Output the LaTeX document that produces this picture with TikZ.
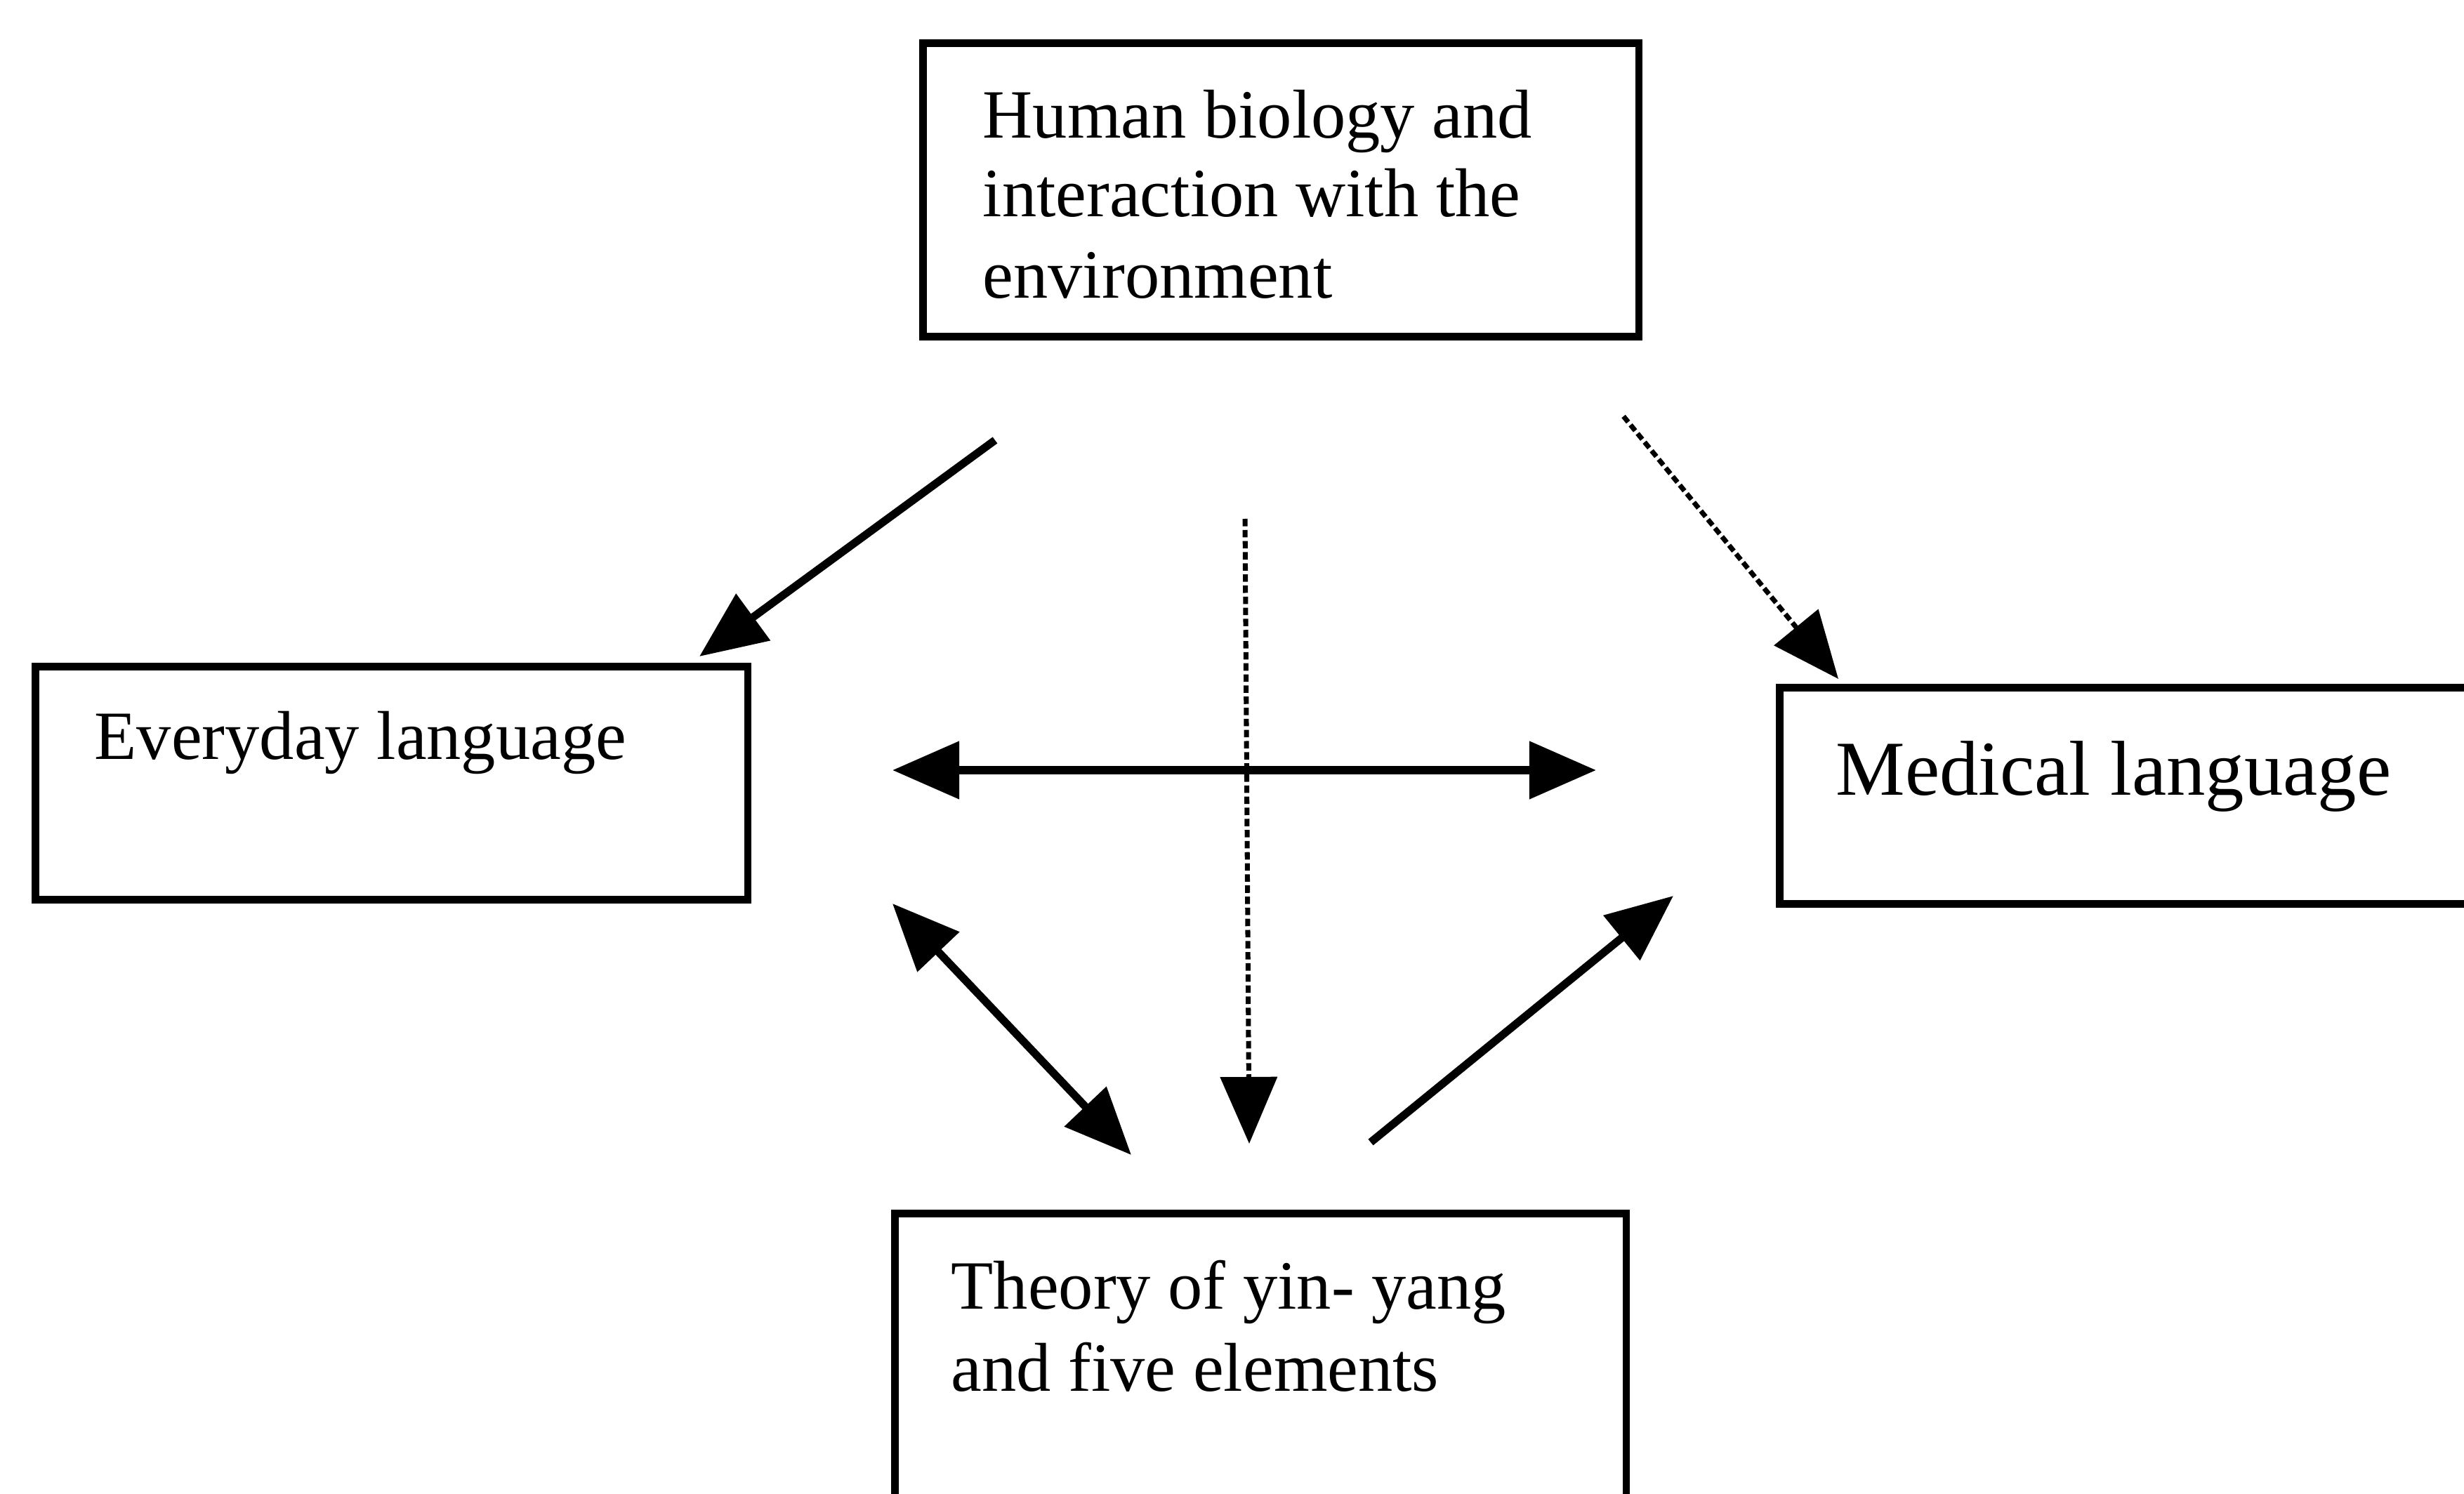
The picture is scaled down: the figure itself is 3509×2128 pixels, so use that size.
\documentclass[tikz,border=0pt]{standalone}
\usepackage{fontspec}
\setmainfont{Liberation Serif}
\usetikzlibrary{arrows.meta}
\begin{document}
\begin{tikzpicture}[x=0.01cm,y=-0.01cm,
  box/.style={draw,line width=3pt,anchor=north west,inner sep=0pt},
  txt/.style={anchor=base west,inner sep=0pt,font=\fontsize{28}{32}\selectfont},
  bigtxt/.style={anchor=base west,inner sep=0pt,font=\fontsize{31.5}{36}\selectfont},
  head/.style={Triangle[length=0.95cm,width=0.8cm]},
  link/.style={line width=3.2pt,-{Triangle[length=0.95cm,width=0.8cm]}},
  twoway/.style={line width=3.2pt,{Triangle[length=0.95cm,width=0.8cm]}-{Triangle[length=0.95cm,width=0.8cm]}},
  dotlink/.style={line width=2pt,dash pattern=on 3pt off 1.5pt,-{Triangle[length=0.95cm,width=0.8cm]}}]
\useasboundingbox (0,0) rectangle (3509,2128);
\clip (0,0) rectangle (3509,2128);
\fill[white] (0,0) rectangle (3509,2128);

% boxes
\node[box,minimum width=10.19cm,minimum height=4.18cm] (bio) at (1309,56) {};
\node[box,minimum width=10.14cm,minimum height=3.32cm] (everyday) at (45,944) {};
\node[box,minimum width=10.4cm,minimum height=3.08cm] (medical) at (2529,974) {};
\node[box,minimum width=10.41cm,minimum height=4.6cm] (theory) at (1269,1723) {};

% labels
\node[txt] (bio1) at (1399,197) {Human biology and};
\node[txt] (bio2) at (1399,309) {interaction with the};
\node[txt] (bio3) at (1399,425) {environment};
\node[txt] (everydaytxt) at (134,1081) {Everyday language};
\node[bigtxt] (medicaltxt) at (2614,1132) {Medical language};
\node[txt] (theory1) at (1354,1864) {Theory of yin- yang};
\node[txt] (theory2) at (1354,1981) {and five elements};

% connector end points
\coordinate (bioL) at (1417,627);
\coordinate (everydayTip) at (996,935);
\coordinate (bioC) at (1773,739);
\coordinate (theoryTop) at (1779,1629);
\coordinate (bioR) at (2312,593);
\coordinate (medicalTip) at (2618,967);
\coordinate (hL) at (1271,1097);
\coordinate (hR) at (2273,1097);
\coordinate (dUL) at (1271,1287);
\coordinate (dLR) at (1611,1645);
\coordinate (tStart) at (1952,1627);
\coordinate (tTip) at (2383,1276);

% connectors
\draw[link] (bioL) -- (everydayTip);
\draw[dotlink] (bioC) -- (theoryTop);
\draw[dotlink] (bioR) -- (medicalTip);
\draw[twoway] (hL) -- (hR);
\draw[twoway] (dUL) -- (dLR);
\draw[link] (tStart) -- (tTip);
\end{tikzpicture}
\end{document}
